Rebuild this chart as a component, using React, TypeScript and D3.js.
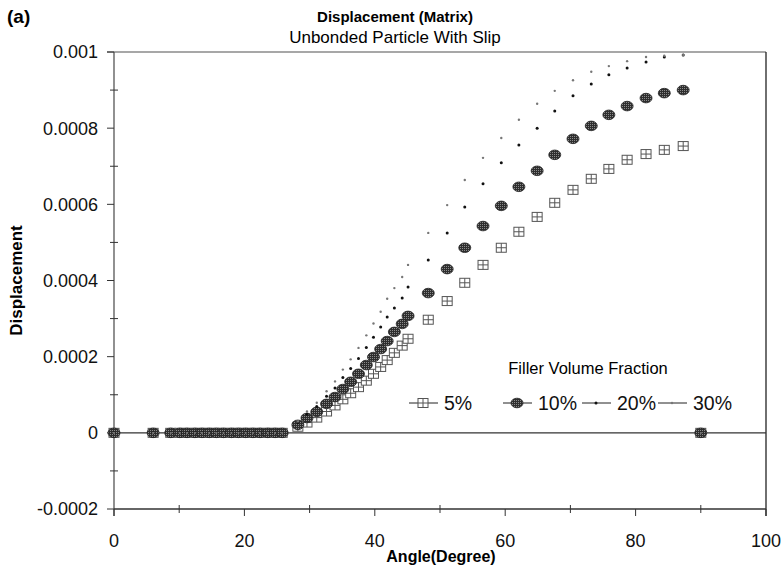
import React, { useEffect, useRef } from "react";
import * as d3 from "d3";

// displacement of the matrix vs angle, one series per filler volume fraction

const angles = [
  0, 6.0, 8.7, 10.1, 11.2, 12.4, 13.5, 14.6, 15.7, 16.8, 18.0, 19.1, 20.2, 21.3, 22.4, 23.6, 24.7, 25.8,
  28.2, 29.6, 31.1, 32.6, 33.9, 35.1, 36.3, 37.5, 38.7, 39.8, 40.9, 41.9, 43.0, 44.2, 45.1,
  48.2, 51.1, 53.8, 56.6, 59.4, 62.1, 64.9, 67.6, 70.4, 73.2, 75.9, 78.7, 81.6, 84.4, 87.3, 90,
];

const zeros = [0, 0, 0, 0, 0, 0, 0, 0, 0, 0, 0, 0, 0, 0, 0, 0, 0, 0];

const vf5 = [
  ...zeros,
  0.000016, 0.000027, 0.00004, 0.000056, 0.000072, 0.000088, 0.000104, 0.00012, 0.000137, 0.000155,
  0.000173, 0.000191, 0.00021, 0.000229, 0.000247, 0.000297, 0.000346, 0.000394, 0.000441, 0.000486,
  0.000528, 0.000567, 0.000604, 0.000638, 0.000667, 0.000693, 0.000717, 0.000732, 0.000743, 0.000753,
  0,
];

const vf10 = [
  ...zeros,
  0.000021, 0.000039, 0.000055, 0.000076, 0.000094, 0.000115, 0.000134, 0.000155, 0.000178, 0.000199,
  0.00022, 0.000241, 0.000265, 0.000286, 0.000307, 0.000367, 0.00043, 0.000486, 0.000543, 0.000596,
  0.000646, 0.000688, 0.00073, 0.000772, 0.000806, 0.000835, 0.000858, 0.000879, 0.000892, 0.0009,
  0,
];

const vf20 = [
  ...zeros,
  0.000027, 0.000049, 0.000069, 0.000096, 0.000118, 0.000145, 0.000169, 0.000195, 0.000224, 0.000251,
  0.000278, 0.000304, 0.000328, 0.000354, 0.000383, 0.000454, 0.000525, 0.000593, 0.000654, 0.000709,
  0.000756, 0.0008, 0.000845, 0.000885, 0.000916, 0.00094, 0.000958, 0.000974, 0.000987, 0.000992,
  0,
];

const vf30 = [
  ...zeros,
  0.00003, 0.000056, 0.000079, 0.000109, 0.000135, 0.000166, 0.000193, 0.000223, 0.000256, 0.000287,
  0.000318, 0.000352, 0.00038, 0.000409, 0.000441, 0.000525, 0.000598, 0.000664, 0.000722, 0.000774,
  0.000822, 0.000864, 0.000898, 0.000926, 0.000948, 0.000963, 0.000976, 0.000987, 0.00099, 0.000992,
  0,
];

const seriesNames = ["5%", "10%", "20%", "30%"];
const xTicks = [0, 20, 40, 60, 80, 100];
const xMinor = [10, 30, 50, 70, 90];
const yTicks = [-0.0002, 0, 0.0002, 0.0004, 0.0006, 0.0008, 0.001];
const yTickLabels = ["-0.0002", "0", "0.0002", "0.0004", "0.0006", "0.0008", "0.001"];
const yMinor = [-0.0001, 0.0001, 0.0003, 0.0005, 0.0007, 0.0009];

const W = 783;
const H = 574;
const FONT = "Arial, 'Liberation Sans', Helvetica, sans-serif";

export default function App() {
  const svgRef = useRef<SVGSVGElement | null>(null);

  useEffect(() => {
    const svg = d3.select(svgRef.current);
    svg.selectAll("*").remove();

    const x = d3.scaleLinear().domain([0, 100]).range([114, 766]);
    const y = d3.scaleLinear().domain([-0.0002, 0.001]).range([509, 52]);
    const [x0, x1] = x.range();
    const [yb, yt] = y.range();

    // dithered fill for the 10% ovals
    const pat = svg.append("defs").append("pattern").attr("id", "hatch")
      .attr("width", 2).attr("height", 2).attr("patternUnits", "userSpaceOnUse");
    pat.append("rect").attr("width", 2).attr("height", 2).attr("fill", "#2e2e2e");
    pat.append("rect").attr("width", 1).attr("height", 1).attr("fill", "#8a8a8a");

    svg.append("rect").attr("width", W).attr("height", H).attr("fill", "#fff");

    // frame
    svg.append("line").attr("x1", x0 - 7).attr("x2", x1).attr("y1", yt).attr("y2", yt)
      .attr("stroke", "#8a8a8a").attr("stroke-width", 1.3);
    svg.append("line").attr("x1", x1).attr("x2", x1).attr("y1", yt).attr("y2", yb + 7)
      .attr("stroke", "#222").attr("stroke-width", 1.3);
    svg.append("line").attr("x1", x0).attr("x2", x0).attr("y1", yt).attr("y2", yb + 7)
      .attr("stroke", "#555").attr("stroke-width", 1.3);
    svg.append("line").attr("x1", x0).attr("x2", x1).attr("y1", yb).attr("y2", yb)
      .attr("stroke", "#333").attr("stroke-width", 1.3);

    // zero line
    svg.append("line").attr("x1", x0).attr("x2", x1).attr("y1", y(0)).attr("y2", y(0))
      .attr("stroke", "#333").attr("stroke-width", 1.3);

    // ticks
    const tk = svg.append("g").attr("stroke", "#333").attr("stroke-width", 1);
    tk.selectAll(".xt").data(xTicks).join("line").attr("class", "xt")
      .attr("x1", (d) => x(d)).attr("x2", (d) => x(d)).attr("y1", yb).attr("y2", yb + 7);
    tk.selectAll(".xm").data(xMinor).join("line").attr("class", "xm")
      .attr("x1", (d) => x(d)).attr("x2", (d) => x(d)).attr("y1", yb - 4).attr("y2", yb + 4);
    tk.selectAll(".yt").data(yTicks).join("line").attr("class", "yt")
      .attr("x1", x0 - 7).attr("x2", x0).attr("y1", (d) => y(d)).attr("y2", (d) => y(d));
    tk.selectAll(".ym").data(yMinor).join("line").attr("class", "ym")
      .attr("x1", x0 - 4).attr("x2", x0 + 4).attr("y1", (d) => y(d)).attr("y2", (d) => y(d));

    // tick labels
    svg.append("g").selectAll("text").data(xTicks).join("text")
      .attr("x", (d) => x(d)).attr("y", 547).attr("text-anchor", "middle")
      .attr("font-family", FONT).attr("font-size", 18).attr("fill", "#111")
      .text((d) => d);
    svg.append("g").selectAll("text").data(yTicks).join("text")
      .attr("x", 98).attr("y", (d) => y(d)).attr("dy", "0.36em").attr("text-anchor", "end")
      .attr("font-family", FONT).attr("font-size", 18).attr("fill", "#111")
      .text((d, i) => yTickLabels[i]);

    // titles
    svg.append("text").attr("x", 7).attr("y", 23).attr("font-family", FONT)
      .attr("font-size", 19).attr("font-weight", "bold").text("(a)");
    svg.append("text").attr("x", 395).attr("y", 22).attr("text-anchor", "middle").attr("font-family", FONT)
      .attr("font-size", 15).attr("font-weight", "bold").text("Displacement (Matrix)");
    svg.append("text").attr("x", 395).attr("y", 43).attr("text-anchor", "middle").attr("font-family", FONT)
      .attr("font-size", 17).text("Unbonded Particle With Slip");
    svg.append("text").attr("x", 441).attr("y", 562).attr("text-anchor", "middle").attr("font-family", FONT)
      .attr("font-size", 16).attr("font-weight", "bold").text("Angle(Degree)");
    svg.append("text").attr("transform", `translate(22,${(yt + yb) / 2}) rotate(-90)`)
      .attr("text-anchor", "middle").attr("font-family", FONT)
      .attr("font-size", 17).attr("font-weight", "bold").text("Displacement");

    // marker painters
    const square = (g, cx, cy) => {
      g.append("rect").attr("x", cx - 5).attr("y", cy - 4.5).attr("width", 10).attr("height", 9)
        .attr("fill", "#fff").attr("stroke", "#555").attr("stroke-width", 1);
      g.append("line").attr("x1", cx - 5).attr("x2", cx + 5).attr("y1", cy).attr("y2", cy)
        .attr("stroke", "#555").attr("stroke-width", 1);
      g.append("line").attr("x1", cx).attr("x2", cx).attr("y1", cy - 4.5).attr("y2", cy + 4.5)
        .attr("stroke", "#555").attr("stroke-width", 1);
    };
    const oval = (g, cx, cy) => {
      g.append("ellipse").attr("cx", cx).attr("cy", cy).attr("rx", 6).attr("ry", 4.8)
        .attr("fill", "url(#hatch)").attr("stroke", "#222").attr("stroke-width", 0.8);
    };
    const dark = (g, cx, cy) => {
      g.append("circle").attr("cx", cx).attr("cy", cy).attr("r", 1.5).attr("fill", "#111");
    };
    const light = (g, cx, cy) => {
      g.append("circle").attr("cx", cx).attr("cy", cy).attr("r", 1.2).attr("fill", "#777");
    };
    const painters = [square, oval, dark, light];
    const values = [vf5, vf10, vf20, vf30];

    values.forEach((vals, s) => {
      const g = svg.append("g");
      vals.forEach((v, i) => painters[s](g, x(angles[i]), y(v)));
    });

    // legend
    svg.append("text").attr("x", 588).attr("y", 374).attr("text-anchor", "middle").attr("font-family", FONT)
      .attr("font-size", 16.5).text("Filler Volume Fraction");
    const legX = [409, 503, 582, 658];
    const legY = 403;
    const lg = svg.append("g");
    seriesNames.forEach((name, s) => {
      const lx = legX[s];
      lg.append("line").attr("x1", lx).attr("x2", lx + 29).attr("y1", legY).attr("y2", legY)
        .attr("stroke", "#222").attr("stroke-width", 1);
      painters[s](lg, lx + 14, legY);
      lg.append("text").attr("x", lx + 35).attr("y", legY + 7).attr("font-family", FONT)
        .attr("font-size", 19.5).attr("fill", "#111").text(name);
    });
  }, []);

  return (
    <svg
      ref={svgRef}
      width={W}
      height={H}
      style={{ position: "absolute", left: 0, top: 0, display: "block" }}
    />
  );
}
